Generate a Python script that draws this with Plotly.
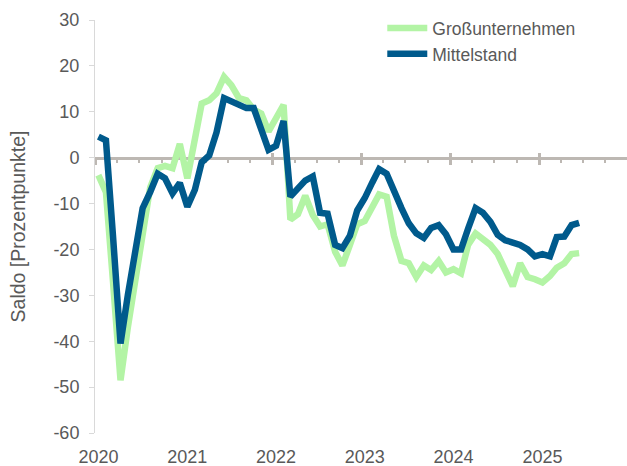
import pandas as pd
import plotly.graph_objects as go

# Monthly survey balance, Jan 2020 - Jun 2025
start_month = "2020-01-01"
n_months = 66
year_labels = ["2020", "2021", "2022", "2023", "2024", "2025"]
y_ticks = [-60, -50, -40, -30, -20, -10, 0, 10, 20, 30]

grossunternehmen = [
    -3.8, -7.5, -27.0, -48.5, -37.0, -27.0, -15.5, -6.5, -2.3, -1.8, -2.3, 3.0,
    -4.5, 3.5, 11.8, 12.5, 14.0, 17.6, 15.8, 13.0, 12.5, 10.5, 9.6, 5.7,
    8.5, 11.5, -13.5, -12.3, -8.3, -12.5, -15.0, -14.5, -20.5, -23.5, -19.0, -14.5,
    -13.8, -10.5, -8.0, -8.5, -17.0, -22.5, -23.0, -26.0, -23.5, -24.5, -22.5, -25.0,
    -24.3, -25.2, -19.0, -16.5, -17.8, -19.0, -21.0, -24.5, -28.0, -23.0, -26.0, -26.5,
    -27.2, -25.8, -24.0, -23.0, -21.0, -20.8,
]
mittelstand = [
    4.6, 3.8, -17.0, -40.5, -30.0, -19.5, -11.0, -7.5, -3.5, -4.5, -7.8, -5.5,
    -10.7, -7.0, -1.0, 0.5, 5.5, 13.0, 12.3, 11.5, 10.8, 10.8, 6.0, 1.7,
    2.6, 8.0, -8.5, -6.5, -5.0, -4.1, -12.0, -12.2, -19.0, -19.7, -17.0, -11.5,
    -8.8, -5.4, -2.5, -3.5, -7.5, -11.0, -14.3, -16.5, -17.5, -15.3, -14.7, -16.7,
    -20.0, -20.0, -15.5, -11.0, -12.0, -14.0, -16.8, -18.0, -18.5, -19.0, -20.0, -21.5,
    -21.0, -21.5, -17.3, -17.2, -14.7, -14.2,
]

months = pd.date_range(start_month, periods=n_months, freq="MS") + pd.Timedelta(days=14)

GREEN = "#B3F4A5"
BLUE = "#005A8C"
GRAY_TXT = "#595959"
AXIS_GRAY = "#D9D9D9"
ZERO_GRAY = "#BDB8B3"
FONT = "Liberation Sans, Arial, sans-serif"
x_range = ["2020-01-01", "2025-12-29"]

fig = go.Figure()
fig.add_trace(go.Scatter(x=months, y=grossunternehmen, mode="lines", name="Großunternehmen",
                         line=dict(color=GREEN, width=6.5), xaxis="x", yaxis="y"))
fig.add_trace(go.Scatter(x=months, y=mittelstand, mode="lines", name="Mittelstand",
                         line=dict(color=BLUE, width=6.5), xaxis="x", yaxis="y"))
# helper traces so the overlay axes are drawn
fig.add_trace(go.Scatter(x=[months[0]], y=[None], xaxis="x2", yaxis="y", showlegend=False, hoverinfo="skip"))
fig.add_trace(go.Scatter(x=[months[0]], y=[None], xaxis="x3", yaxis="y", showlegend=False, hoverinfo="skip"))

zero_pos = (0 - y_ticks[0]) / (y_ticks[-1] - y_ticks[0])

fig.update_layout(
    width=627, height=466,
    margin=dict(l=95, r=0, t=20, b=33, autoexpand=False),
    paper_bgcolor="white", plot_bgcolor="white",
    font=dict(family=FONT, color=GRAY_TXT, size=17),
    showlegend=True,
    legend=dict(x=0.54, y=1.024, xanchor="left", yanchor="top", bgcolor="rgba(0,0,0,0)",
                font=dict(size=17.5, color=GRAY_TXT), tracegroupgap=0, itemwidth=40),
    # zero line with tick marks (downwards)
    xaxis=dict(type="date", range=x_range, anchor="free", position=zero_pos,
               showline=True, linecolor=ZERO_GRAY, linewidth=2.5,
               tick0="2020-01-01", dtick="M12", ticks="outside", ticklen=6, tickwidth=2.5,
               tickcolor=ZERO_GRAY, showticklabels=False, showgrid=False, zeroline=False,
               minor=dict(tick0="2020-01-01", dtick="M3", ticks="outside", ticklen=4,
                          tickwidth=2, tickcolor=ZERO_GRAY, showgrid=False),
               layer="below traces", automargin=False),
    # year labels at bottom
    xaxis2=dict(type="date", range=x_range, overlaying="x", anchor="y", side="bottom",
                showline=False, ticks="", tickmode="array",
                tickvals=[f"{y}-01-15" for y in year_labels], ticktext=year_labels,
                tickfont=dict(size=18, color=GRAY_TXT), showgrid=False, zeroline=False,
                ticklabelstandoff=11, automargin=False),
    # upward part of the year ticks on the zero line
    xaxis3=dict(type="date", range=x_range, overlaying="x", anchor="free", position=zero_pos,
                showline=False, tick0="2020-01-01", dtick="M12", ticks="inside", ticklen=5,
                tickwidth=2.5, tickcolor=ZERO_GRAY, showticklabels=False, showgrid=False,
                zeroline=False, layer="below traces", automargin=False),
    yaxis=dict(range=[y_ticks[0], y_ticks[-1]], tickmode="array", tickvals=y_ticks,
               ticktext=[str(v) for v in y_ticks],
               showline=True, linecolor=AXIS_GRAY, linewidth=1, ticks="outside", ticklen=5,
               tickcolor=AXIS_GRAY, showgrid=False, zeroline=False,
               tickfont=dict(size=18, color=GRAY_TXT), ticklabelstandoff=6, automargin=False,
               title=dict(text="Saldo [Prozentpunkte]", font=dict(size=19.5, color=GRAY_TXT),
                          standoff=22)),
)

fig.write_html("out.html", config={"displayModeBar": False},
               post_script="document.body.style.margin='0px';document.body.style.overflow='hidden';")
